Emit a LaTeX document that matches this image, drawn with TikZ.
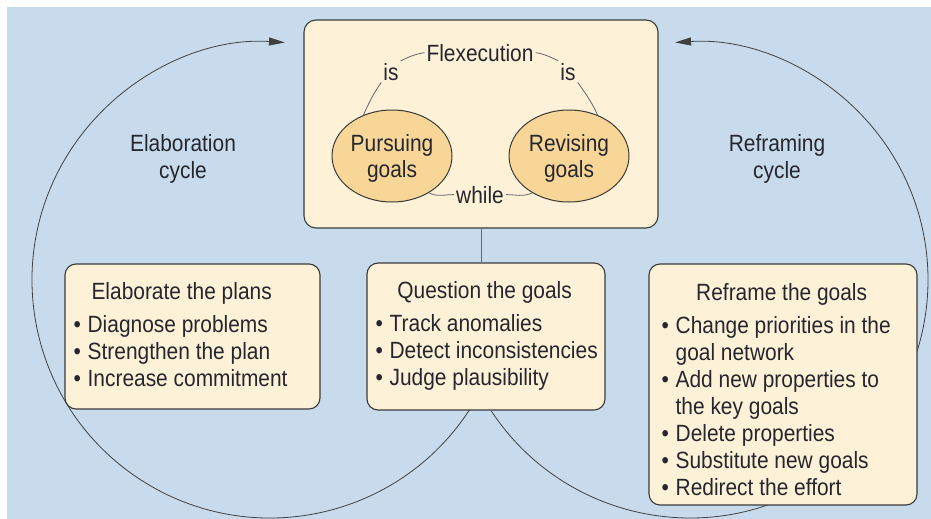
\documentclass[tikz,border=0pt]{standalone}
\usepackage{fontspec}
\setmainfont{Liberation Sans}[FakeStretch=0.89]
\usetikzlibrary{shapes.geometric,arrows.meta,positioning}

\definecolor{skyback}{HTML}{C8DBEC}
\definecolor{cream}{HTML}{FDF1D7}
\definecolor{goalfill}{HTML}{F8D697}
\definecolor{inkgray}{HTML}{3A3A3A}
\definecolor{txtgray}{HTML}{26262E}

% bullet with a fixed slot, so the item texts line up
\newcommand{\blt}{\makebox[14pt][l]{\textbullet}}

\begin{document}
\begin{tikzpicture}[x=1pt, y=1pt,
    every node/.style={font=\fontsize{23.5}{27}\selectfont, text=txtgray},
    card/.style={draw=inkgray, line width=1.1pt, fill=cream, rounded corners=11pt, inner sep=0pt},
    goal/.style={ellipse, draw=inkgray, line width=1pt, fill=goalfill, minimum width=120pt,
        minimum height=92pt, inner sep=0pt, align=center, font=\fontsize{23.5}{26}\selectfont},
    word/.style={inner sep=2pt},
    link/.style={draw=black!60, line width=0.8pt},
    cyc/.style={draw=black!75, line width=0.8pt, -{Triangle[length=16pt,width=8pt]}},
    list/.style={inner sep=0pt, align=left, anchor=north west}]
    % --- background panel ---
    \useasboundingbox (0,0) rectangle (931,-519);
    \fill[skyback] (7,-7) rectangle (931,-519);

    % --- the two cycles (drawn first, the cards sit on top) ---
    \def\rad{238}
    \coordinate (elabc) at (270,-280);
    \coordinate (refrc) at (690,-280);
    \draw[cyc] ([shift={(-33:\rad)}]elabc) arc[start angle=-33, end angle=-273.6, radius=\rad];
    \draw[cyc] ([shift={(-146.7:\rad)}]refrc) arc[start angle=-146.7, end angle=93.6, radius=\rad];

    % --- cards ---
    \node[card, minimum width=354pt, minimum height=208pt, rounded corners=12pt] (flexbox) at (481,-124) {};
    \node[card, minimum width=255pt, minimum height=145pt] (elab) at (192.5,-336.5) {};
    \node[card, minimum width=238pt, minimum height=147pt] (quest) at (486,-336.5) {};
    \node[card, minimum width=268pt, minimum height=241pt] (refr) at (783,-384.5) {};
    \draw[link] (flexbox.south) -- (flexbox.south |- quest.north);

    % --- flexecution diagram ---
    \node[word, anchor=base] (flex) at (480,-61) {Flexecution};
    \node[word, anchor=base] (isL) at (391,-80) {is};
    \node[word, anchor=base] (isR) at (568,-80) {is};
    \node[goal] (pursue) at (392,-156) {\rule{0pt}{21pt}Pursuing\\goals};
    \node[goal] (revise) at (569,-156) {\rule{0pt}{21pt}Revising\\goals};
    \node[word, anchor=base] (while) at (480,-203) {while};
    \draw[link] (pursue.125) to[out=65,in=235] (isL.south west);
    \draw[link] (isL.north east) to[out=25,in=190] (flex.west);
    \draw[link] (flex.east) to[out=-10,in=155] (isR.north west);
    \draw[link] (isR.south east) to[out=-55,in=115] (revise.55);
    \draw[link] (pursue.-45) to[out=-25,in=180] (while.west);
    \draw[link] (while.east) to[out=0,in=-155] (revise.-135);

    % --- cycle names ---
    \node[align=center] (elabcycle) at (183,-159) {Elaboration\\cycle};
    \node[align=center] (refrcycle) at (777,-159) {Reframing\\cycle};

    % --- card texts ---
    \node[list] (elabtxt) at ([xshift=9pt,yshift=-19pt]elab.north west)
        {\makebox[216pt]{Elaborate the plans}\\[6pt]
         \blt Diagnose problems\\
         \blt Strengthen the plan\\
         \blt Increase commitment};
    \node[list] (questtxt) at ([xshift=9pt,yshift=-19pt]quest.north west)
        {\makebox[218pt]{Question the goals}\\[6pt]
         \blt Track anomalies\\
         \blt Detect inconsistencies\\
         \blt Judge plausibility};
    \node[list] (refrtxt) at ([xshift=13pt,yshift=-20pt]refr.north west)
        {\makebox[240pt]{Reframe the goals}\\[6pt]
         \blt Change priorities in the\\
         \hspace*{14pt}goal network\\
         \blt Add new properties to\\
         \hspace*{14pt}the key goals\\
         \blt Delete properties\\
         \blt Substitute new goals\\
         \blt Redirect the effort};
\end{tikzpicture}
\end{document}
